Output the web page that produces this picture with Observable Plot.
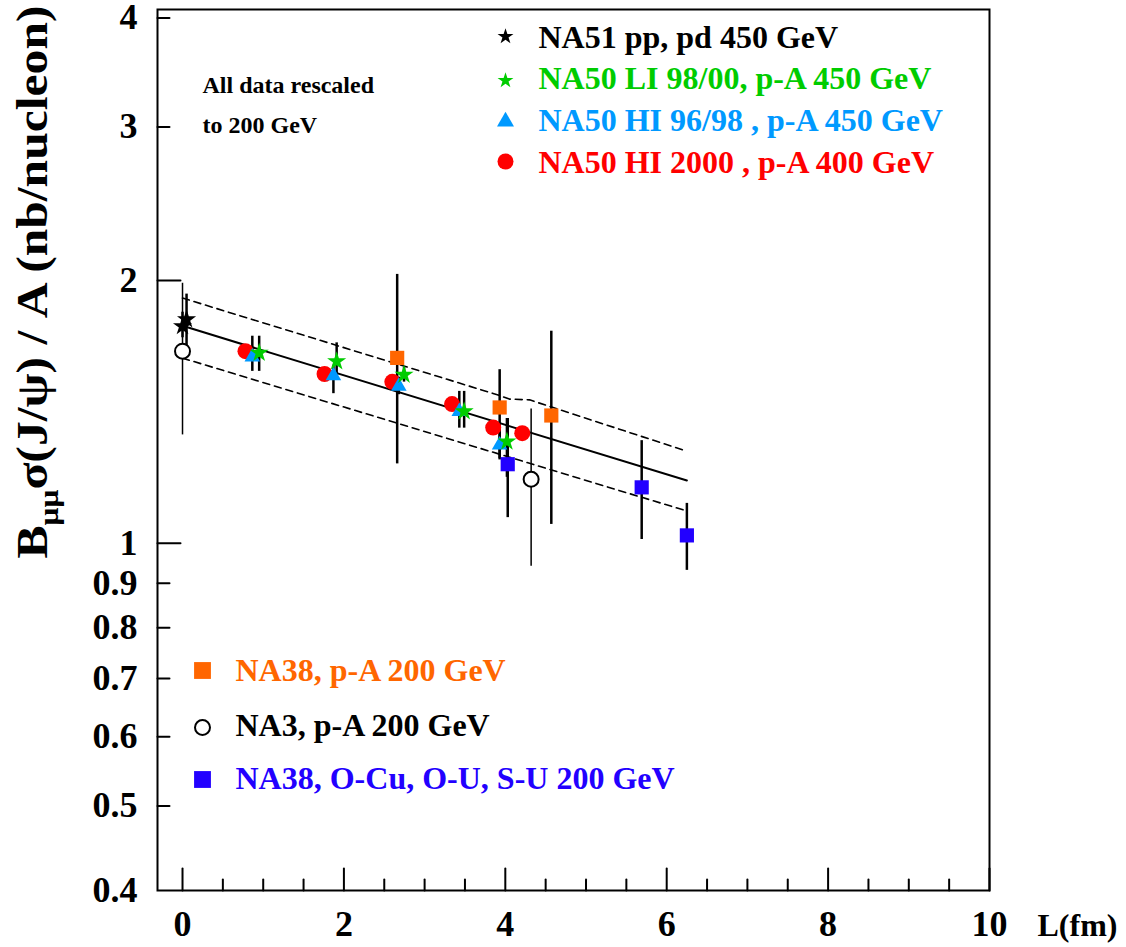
<!DOCTYPE html>
<html><head><meta charset="utf-8">
<script src="https://cdn.jsdelivr.net/npm/d3@7"></script>
<script src="https://cdn.jsdelivr.net/npm/@observablehq/plot@0.6"></script>
<style>html,body{margin:0;padding:0;background:#fff;overflow:hidden}</style>
</head><body><div id="chart"></div>
<script>
// ---------- data ----------
const xTicksMajor = [0, 2, 4, 6, 8, 10];
const xTicksMinor = [0.5, 1, 1.5, 2.5, 3, 3.5, 4.5, 5, 5.5, 6.5, 7, 7.5, 8.5, 9, 9.5];
const yTickLabels = [0.4, 0.5, 0.6, 0.7, 0.8, 0.9, 1, 2, 3, 4];
const yTicksLong = [1, 2];
const yTicksShort = [0.5, 0.6, 0.7, 0.8, 0.9, 3, 4];

// NA51 pp, pd 450 GeV (black stars)
const na51L = [0.0, 0.05];
const na51V = [1.773, 1.805];
const na51Lo = [1.72, 1.665];
const na51Hi = [1.84, 1.93];
// NA50 LI 98/00 p-A 450 GeV (green stars)
const na50liL = [0.95, 1.91, 2.745, 3.49, 4.02];
const na50liV = [1.653, 1.616, 1.56, 1.416, 1.308];
const na50liLo = [1.574, 1.545, 1.53, 1.355, 1.19];
const na50liHi = [1.727, 1.697, 1.59, 1.493, 1.39];
// NA50 HI 96/98 p-A 450 GeV (light blue triangles)
const na50hiL = [0.865, 1.87, 2.68, 3.43, 3.93];
const na50hiV = [1.635, 1.556, 1.513, 1.416, 1.296];
const na50hiLo = [1.574, 1.484, 1.48, 1.355, 1.25];
const na50hiHi = [1.727, 1.60, 1.55, 1.493, 1.34];
// NA50 HI 2000 p-A 400 GeV (red circles)
const na50h2L = [0.78, 1.76, 2.60, 3.34, 3.85, 4.21];
const na50h2V = [1.66, 1.563, 1.531, 1.444, 1.357, 1.337];
// NA38 p-A 200 GeV (orange squares)
const na38pL = [2.66, 3.93, 4.57];
const na38pV = [1.631, 1.431, 1.401];
const na38pLo = [1.233, 1.246, 1.051];
const na38pHi = [2.033, 1.581, 1.75];
// NA3 p-A 200 GeV (open circles)
const na3L = [0.0, 4.32];
const na3V = [1.66, 1.184];
const na3Lo = [1.331, 0.941];
const na3Hi = [1.986, 1.425];
// NA38 O-Cu, O-U, S-U 200 GeV (blue squares)
const na38sL = [4.03, 5.69, 6.25];
const na38sV = [1.232, 1.159, 1.021];
const na38sLo = [1.07, 1.01, 0.931];
const na38sHi = [1.39, 1.311, 1.111];
// fit and band
const fitL = [0, 6.25];
const fitV = [1.775, 1.18];
const bandUpL = [0, 3.9, 4.05, 4.3, 6.25];
const bandUpV = [1.91, 1.48, 1.463, 1.46, 1.275];
const bandLoL = [0, 6.22];
const bandLoV = [1.63, 1.091];

const legend1Labels = ["NA51 pp, pd 450 GeV", "NA50 LI 98/00, p-A 450 GeV", "NA50 HI 96/98 , p-A 450 GeV", "NA50 HI 2000 , p-A 400 GeV"];
const legend2Labels = ["NA38, p-A 200 GeV", "NA3, p-A 200 GeV", "NA38, O-Cu, O-U, S-U 200 GeV"];
const noteLines = ["All data rescaled", "to 200 GeV"];
const xTitle = "L(fm)";
const yTitleParts = ["B", "\u03bc\u03bc", "\u03c3(J/\u03c8) / A (nb/nucleon)"];

// ---------- build ----------
const rows = (L, V, Lo, Hi) => L.map((l, i) => ({L: l, v: V[i], lo: Lo ? Lo[i] : null, hi: Hi ? Hi[i] : null}));
const na51 = rows(na51L, na51V, na51Lo, na51Hi);
const na50li = rows(na50liL, na50liV, na50liLo, na50liHi);
const na50hi = rows(na50hiL, na50hiV, na50hiLo, na50hiHi);
const na50h2 = rows(na50h2L, na50h2V);
const na38p = rows(na38pL, na38pV, na38pLo, na38pHi);
const na3 = rows(na3L, na3V, na3Lo, na3Hi);
const na38s = rows(na38sL, na38sV, na38sLo, na38sHi);
const fit = rows(fitL, fitV);
const bandUp = rows(bandUpL, bandUpV);
const bandLo = rows(bandLoL, bandLoV);

const C = {green: "#00cc00", azure: "#0099ff", red: "#ff0000", orange: "#ff6600", blue: "#2200ff", black: "#000000"};
const FONT = "'Liberation Serif', 'Times New Roman', serif";
const YTITLE = yTitleParts.join("");

// tick shape for vector marks (line from anchor along the vector)
const tickShape = {draw(ctx, l) { ctx.moveTo(0, 0); ctx.lineTo(0, -l); }};
const tickOpts = {shape: tickShape, anchor: "start", stroke: "black", strokeWidth: 2};

const marks = [
  // inward ticks
  Plot.vector(yTicksLong, {y: d => d, frameAnchor: "left", rotate: 90, length: 23, ...tickOpts}),
  Plot.vector(yTicksShort, {y: d => d, frameAnchor: "left", rotate: 90, length: 12, ...tickOpts}),
  Plot.vector(xTicksMajor, {x: d => d, frameAnchor: "bottom", rotate: 0, length: 22, ...tickOpts}),
  Plot.vector(xTicksMinor, {x: d => d, frameAnchor: "bottom", rotate: 0, length: 11, ...tickOpts}),
  // axis labels
  Plot.axisY({ticks: yTickLabels, tickSize: 0, tickPadding: 20, tickFormat: d => String(d), fontSize: 36, fontWeight: "bold", fontFamily: FONT, label: null}),
  Plot.axisX({ticks: xTicksMajor, tickSize: 0, tickPadding: 20, tickFormat: d => String(d), fontSize: 36, fontWeight: "bold", fontFamily: FONT, label: null}),
  Plot.text([xTitle], {text: d => d, frameAnchor: "bottom-right", dx: 88, dy: 35, textAnchor: "middle", lineAnchor: "middle", fontSize: 32, fontWeight: "bold", fontFamily: FONT}),
  Plot.text([YTITLE], {text: d => d, frameAnchor: "top-left", dx: -125, dy: -4, rotate: -90, textAnchor: "end", lineAnchor: "middle", fontSize: 44, fontWeight: "bold", fontFamily: FONT}),
  // band and fit
  Plot.line(bandUp, {x: "L", y: "v", stroke: "black", strokeWidth: 1.6, strokeDasharray: "7,5"}),
  Plot.line(bandLo, {x: "L", y: "v", stroke: "black", strokeWidth: 1.6, strokeDasharray: "7,5"}),
  Plot.line(fit, {x: "L", y: "v", stroke: "black", strokeWidth: 2}),
  // error bars
  Plot.ruleX(na3, {x: "L", y1: "lo", y2: "hi", stroke: "black", strokeWidth: 1.5}),
  Plot.ruleX(na38p, {x: "L", y1: "lo", y2: "hi", stroke: "black", strokeWidth: 2.5}),
  Plot.ruleX(na38s, {x: "L", y1: "lo", y2: "hi", stroke: "black", strokeWidth: 2.5}),
  Plot.ruleX(na50hi, {x: "L", y1: "lo", y2: "hi", stroke: "black", strokeWidth: 2.5}),
  Plot.ruleX(na50li, {x: "L", y1: "lo", y2: "hi", stroke: "black", strokeWidth: 2.5}),
  Plot.ruleX(na51, {x: "L", y1: "lo", y2: "hi", stroke: "black", strokeWidth: 2.5}),
  // markers
  Plot.dot(na50h2, {x: "L", y: "v", symbol: "circle", r: 8, fill: C.red}),
  Plot.dot(na50hi, {x: "L", y: "v", symbol: "triangle", r: 5.8, fill: C.azure}),
  Plot.dot(na50li, {x: "L", y: "v", symbol: "star", r: 6, fill: C.green}),
  Plot.dot(na38p, {x: "L", y: "v", symbol: "square", r: 8, fill: C.orange}),
  Plot.dot(na38s, {x: "L", y: "v", symbol: "square", r: 8, fill: C.blue}),
  Plot.dot(na3, {x: "L", y: "v", symbol: "circle", r: 7.5, fill: "white", stroke: "black", strokeWidth: 2}),
  Plot.dot(na51, {x: "L", y: "v", symbol: "star", r: 6, fill: C.black}),
  // note
  ...noteLines.map((t, i) => Plot.text([t], {text: d => d, frameAnchor: "top-left", dx: 45, dy: 76 + i * 40, textAnchor: "start", lineAnchor: "middle", fontSize: 24, fontWeight: "bold", fontFamily: FONT}))
];

// legend 1
const l1Sym = [
  {symbol: "star", r: 5, fill: C.black},
  {symbol: "star", r: 5, fill: C.green},
  {symbol: "triangle", r: 6.3, fill: C.azure},
  {symbol: "circle", r: 8, fill: C.red}
];
const l1Col = [C.black, C.green, C.azure, C.red];
const l1SymDy = [27, 71, 112, 152];
const l1TxtDy = [28, 69, 111, 153];
legend1Labels.forEach((lab, i) => {
  marks.push(Plot.dot([0], {frameAnchor: "top-left", dx: 348, dy: l1SymDy[i], ...l1Sym[i]}));
  marks.push(Plot.text([lab], {text: d => d, frameAnchor: "top-left", dx: 381, dy: l1TxtDy[i], textAnchor: "start", lineAnchor: "middle", fill: l1Col[i], fontSize: 32, fontWeight: "bold", fontFamily: FONT}));
});
// legend 2
const l2Sym = [
  {symbol: "square", r: 9.5, fill: C.orange},
  {symbol: "circle", r: 7.5, fill: "white", stroke: "black", strokeWidth: 2},
  {symbol: "square", r: 9.5, fill: C.blue}
];
const l2Col = [C.orange, C.black, C.blue];
const l2SymDy = [661, 718, 770];
const l2TxtDy = [661, 716, 769];
legend2Labels.forEach((lab, i) => {
  marks.push(Plot.dot([0], {frameAnchor: "top-left", dx: 45, dy: l2SymDy[i], ...l2Sym[i]}));
  marks.push(Plot.text([lab], {text: d => d, frameAnchor: "top-left", dx: 78, dy: l2TxtDy[i], textAnchor: "start", lineAnchor: "middle", fill: l2Col[i], fontSize: 32, fontWeight: "bold", fontFamily: FONT}));
});

marks.push(Plot.frame({stroke: "black", strokeWidth: 2}));

const chart = Plot.plot({
  width: 1126,
  height: 947,
  marginLeft: 157,
  marginRight: 137,
  marginTop: 9,
  marginBottom: 57,
  inset: 0,
  x: {domain: [-0.31, 10], axis: null},
  y: {type: "log", domain: [0.4, 4.09], axis: null},
  style: {fontFamily: FONT, fontWeight: "bold", background: "white", color: "black", overflow: "visible"},
  marks
});
document.getElementById("chart").appendChild(chart);

// subscript in y title
const NS = "http://www.w3.org/2000/svg";
for (const t of chart.querySelectorAll("text")) {
  if (t.textContent === YTITLE) {
    t.textContent = "";
    const a = document.createElementNS(NS, "tspan"); a.textContent = yTitleParts[0];
    const b = document.createElementNS(NS, "tspan"); b.textContent = yTitleParts[1];
    b.setAttribute("font-size", "28"); b.setAttribute("dy", "11");
    const c = document.createElementNS(NS, "tspan"); c.textContent = yTitleParts[2];
    c.setAttribute("dy", "-11");
    t.append(a, b, c);
    t.setAttribute("textLength", "553");
    t.setAttribute("lengthAdjust", "spacingAndGlyphs");
  }
}
</script>
</body></html>
